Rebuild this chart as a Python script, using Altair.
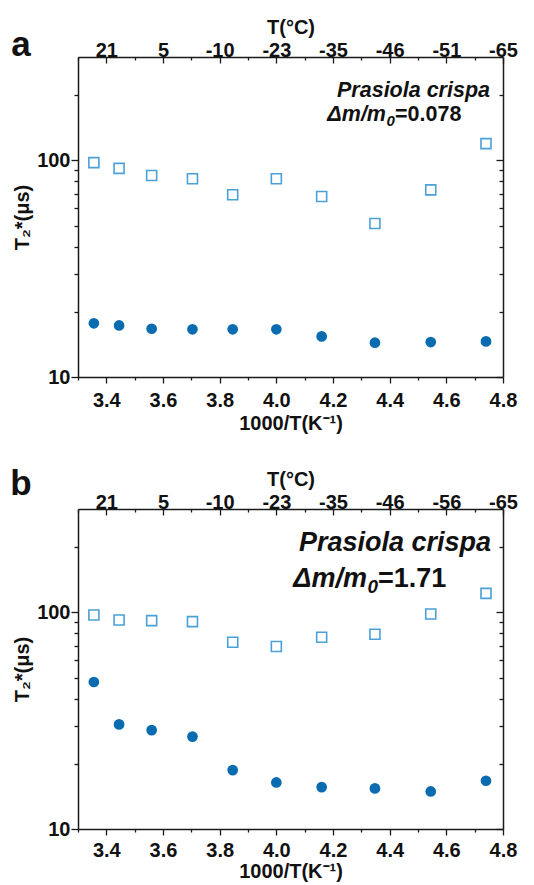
import altair as alt
import pandas as pd

# ---- data ----
x_inv = [3.356, 3.445, 3.56, 3.704, 3.846, 4.0, 4.16, 4.348, 4.545, 4.74]
a_open = [97.6, 91.8, 85.2, 82.3, 69.4, 82.3, 68.1, 51.1, 73.1, 119.5]
a_fill = [17.7, 17.3, 16.7, 16.6, 16.6, 16.6, 15.4, 14.4, 14.5, 14.6]
b_open = [97.2, 92.2, 91.6, 90.6, 72.8, 69.6, 76.8, 79.2, 98.2, 122.3]
b_fill = [47.7, 30.4, 28.6, 26.7, 18.7, 16.4, 15.6, 15.4, 14.9, 16.7]
top_labels_a = ["21", "5", "-10", "-23", "-35", "-46", "-51", "-65"]
top_labels_b = ["21", "5", "-10", "-23", "-35", "-46", "-56", "-65"]
x_ticks = [3.3, 3.4, 3.5, 3.6, 3.7, 3.8, 3.9, 4.0, 4.1, 4.2, 4.3, 4.4, 4.5, 4.6, 4.7, 4.8]
y_ticks = [10, 20, 30, 40, 50, 60, 70, 80, 90, 100, 200]
x_domain = [3.3, 4.8]
y_domain = [10, 300]

FONT = "Liberation Sans"
DARK = "#0a6cb0"
LIGHT = "#4aa0d8"
INK = "#1a1a1a"

MAJ_X = "round(datum.value*10)%2==0"
MAJ_Y = "datum.value==10||datum.value==100"


def ticks_out(test, major, minor):
    return {"condition": {"test": test, "value": major}, "value": minor}


def ticks_in(test, major, minor):
    return {"condition": {"test": test, "value": -major}, "value": -minor}


def text_layer(txt, x, y, size, align, style="normal"):
    return alt.Chart(pd.DataFrame({"t": [txt]})).mark_text(
        font=FONT, fontSize=size, fontWeight="bold", fontStyle=style,
        align=align, baseline="middle", color="#111111"
    ).encode(x=alt.value(x), y=alt.value(y), text="t:N")


def panel(fill_vals, open_vals, top_labels, letter, letter_y,
          line1, vpart, ann_size, ann_y1, ann_y2, ann_right, ann_split,
          bottom_lpad, bottom_tpad):
    df = pd.DataFrame({"x": x_inv, "filled": fill_vals, "open": open_vals})
    xs = alt.Scale(domain=x_domain, nice=False, zero=False)
    ys = alt.Scale(type="log", domain=y_domain, nice=False)
    top_expr = ("%s ? [%s][round((datum.value-3.4)*5)] : ''"
                % (MAJ_X, ",".join("'%s'" % s for s in top_labels)))
    base = alt.Chart(df)
    circles = base.mark_circle(size=115, color=DARK, opacity=1).encode(
        x=alt.X("x:Q", scale=xs, axis=alt.Axis(
            orient="bottom", values=x_ticks, title="1000/T(K\u207b\u00b9)",
            labelExpr="%s ? format(datum.value,'.1f') : ''" % MAJ_X,
            tickSize=ticks_out(MAJ_X, 6, 3), labelPadding=bottom_lpad,
            titlePadding=bottom_tpad)),
        y=alt.Y("filled:Q", scale=ys, axis=alt.Axis(
            orient="left", values=y_ticks, title="T\u2082*(\u03bcs)",
            labelExpr="%s ? datum.value : ''" % MAJ_Y,
            tickSize=ticks_out(MAJ_Y, 7, 4), labelPadding=1, titlePadding=4)),
    )
    squares = base.mark_point(shape="square", filled=False, size=100,
                              strokeWidth=1.6, color=LIGHT, opacity=1).encode(
        x=alt.X("x:Q", scale=xs, axis=None),
        y=alt.Y("open:Q", scale=ys, axis=None),
    )
    frame = base.mark_point(opacity=0).encode(
        x=alt.X("x:Q", scale=xs, axis=alt.Axis(
            orient="top", values=x_ticks, title="T(\u00b0C)", labelExpr=top_expr,
            tickSize=ticks_in(MAJ_X, 6, 3), labelPadding=3, titlePadding=0)),
        y=alt.Y("open:Q", scale=ys, axis=alt.Axis(
            orient="right", values=y_ticks, labels=False, title=None,
            tickSize=ticks_in(MAJ_Y, 7, 4))),
    )
    sub = round(ann_size * 0.7, 1)
    texts = [
        text_layer(letter, -57, letter_y, 35, "center"),
        text_layer(line1, ann_right, ann_y1, ann_size, "right", "italic"),
        text_layer("\u0394m/m", ann_split, ann_y2, ann_size, "right", "italic"),
        text_layer("0", ann_split + 0.5, ann_y2 + round(ann_size * 0.3), sub, "left", "italic"),
        text_layer(vpart, ann_split + round(sub * 0.58), ann_y2, ann_size, "left"),
    ]
    return alt.layer(circles, squares, frame, *texts).resolve_scale(
        x="independent", y="independent"
    ).properties(width=425, height=320)


pa = panel(a_fill, a_open, top_labels_a, "a", -12,
           "Prasiola crispa", "=0.078", 21.5, 34, 58, 412, 308, 7, 3)
pb = panel(b_fill, b_open, top_labels_b, "b", -25,
           "Prasiola crispa", "=1.71", 27, 34, 70, 413, 289, 5, 1)

chart = alt.vconcat(pa, pb, spacing=34).properties(
    padding={"left": 2, "top": 9, "right": 5, "bottom": 2}, background="white"
).configure_view(stroke=None).configure_axis(
    grid=False, domainColor=INK, domainWidth=1.5, tickColor=INK, tickWidth=1.3,
    labelFont=FONT, labelFontSize=20, labelFontWeight="bold", labelColor="#111111",
    titleFont=FONT, titleFontSize=20, titleFontWeight="bold", titleColor="#111111",
    labelFlush=False, labelOverlap=False,
)

chart.save("out.html", embed_options={"renderer": "svg", "actions": False})
